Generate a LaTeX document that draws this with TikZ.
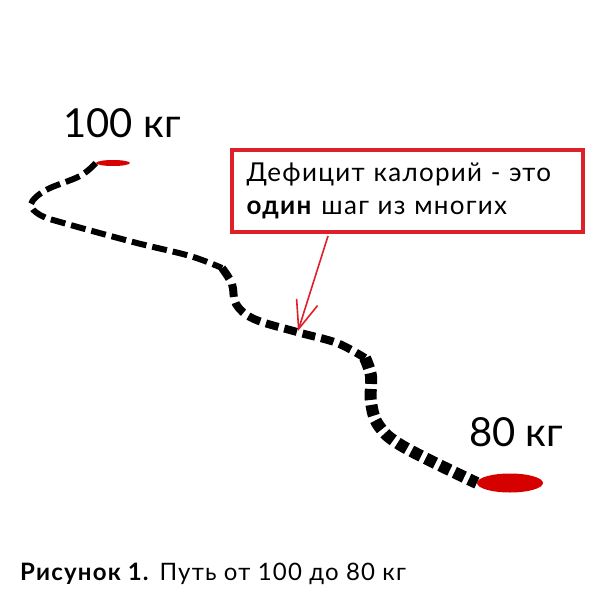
\documentclass[tikz,border=0pt]{standalone}
\usepackage{fontspec}
\setmainfont{Lato}
\usetikzlibrary{arrows.meta,positioning,calc,shapes.geometric}
\definecolor{boxred}{RGB}{222,32,42}
\definecolor{spotred}{RGB}{215,0,0}
\tikzset{spot/.style={ellipse, fill=spotred, inner sep=0pt}}
\tikzstyle{wt}=[font=\fontsize{40}{46}\selectfont, inner sep=0pt]
\tikzstyle{road}=[line cap=butt, draw=black]

\begin{document}
\begin{tikzpicture}[x=1pt, y=-1pt, >={Straight Barb[length=28pt,width=22pt]}]
\useasboundingbox (0,0) rectangle (600,600);
\node[spot, minimum width=34pt, minimum height=6pt] (S100) at (113,163) {};
\node[spot, minimum width=66pt, minimum height=19pt] (S80) at (510,483) {};
\node[wt] (L100) at (122,123) {100 кг};
\node[wt] (L80) at (516,432) {80 кг};
% the road
\coordinate (M1) at (222,268);
\coordinate (M2) at (365,358);
\draw[road, line width=6pt, dash pattern=on 15pt off 6pt] plot[smooth, tension=0.6] coordinates
  {(S100.west) (80,176) (46,190) (31,204) (40,215) (60,222) (133,242) (190,256) (M1)};
\draw[road, line width=8pt, dash pattern=on 13pt off 6pt] plot[smooth, tension=0.6] coordinates
  {(M1) (232,284) (236,304) (254,319) (297,332) (337,343) (M2)};
\draw[road, line width=12pt, dash pattern=on 11pt off 5pt] plot[smooth, tension=0.6] coordinates
  {(M2) (371,376) (371,402) (379,426) (404,447) (S80.west)};
% the note
\node[draw=boxred, line width=4pt, minimum width=351pt, minimum height=82pt, text width=321pt,
  align=left, font=\fontsize{26}{33}\selectfont\addfontfeatures{LetterSpace=5}] (note) at (407,191)
  {Дефицит калорий - это\\\textbf{один} шаг из многих};
\coordinate (tip) at (298,331);
\draw[->, boxred, line width=1.6pt] ([xshift=-79pt, yshift=-2pt]note.south) -- (tip);
\node[anchor=base west, inner sep=0pt, font=\fontsize{24}{28}\selectfont\addfontfeatures{LetterSpace=5}] (cap) at (20,580)
  {\textbf{Рисунок 1.} Путь от 100 до 80 кг};
\end{tikzpicture}
\end{document}
